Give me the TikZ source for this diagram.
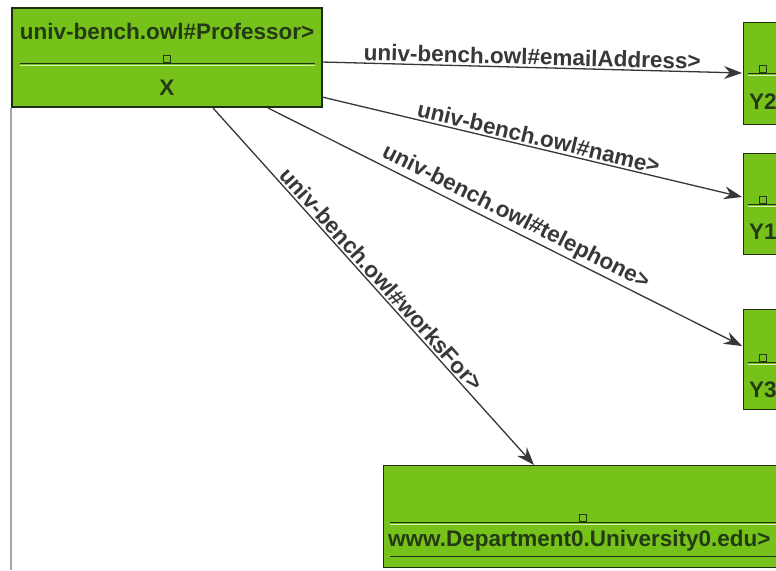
\documentclass[tikz,border=0pt]{standalone}
\usepackage{fontspec}
\setmainfont{Liberation Sans}
\usetikzlibrary{arrows.meta}
\definecolor{boxgreen}{RGB}{118,194,26}
\definecolor{boxborder}{RGB}{30,45,15}
\definecolor{txtgreen}{RGB}{36,58,20}
\definecolor{edgegray}{RGB}{55,55,55}
\tikzset{
  cls/.style={draw=boxborder, line width=1.2pt, fill=boxgreen, rectangle, inner sep=0pt},
  lbl/.style={font=\fontsize{22.5}{26}\selectfont\bfseries, text=txtgreen, inner sep=0pt},
  elbl/.style={font=\fontsize{22.5}{26}\selectfont\bfseries, text=black!78, sloped, above, inner sep=2pt},
  sep/.style={draw=txtgreen!90!black, line width=1pt},
  sepl/.style={draw=white!70!boxgreen, line width=0.8pt},
  sq/.style={draw=txtgreen, line width=0.8pt, fill=boxgreen, minimum size=7pt, inner sep=0pt, rectangle},
  rel/.style={draw=edgegray, line width=1.3pt, -{Stealth[length=18pt, width=13pt, inset=6pt]}}
}
\begin{document}
\begin{tikzpicture}[x=1pt, y=-1pt]
\useasboundingbox[fill=white] (0,0) rectangle (776,570);
\draw[gray!70, line width=1.2pt] (11,108) -- (11,570);
% Professor box
\node[cls, minimum width=310pt, minimum height=99pt] (prof) at (167,57.5) {};
\node[lbl] (proft) at (167,31) {univ-bench.owl\#Professor>};
\draw[sep] (20,63) -- (315,63);
\draw[sepl] (20,65) -- (315,65);
\node[sq] (profsq) at (167,58.5) {};
\node[lbl] (profx) at (167,88) {X};
% Y2 box
\node[cls, minimum width=60pt, minimum height=102pt, anchor=north west] (y2) at (743,22) {};
\draw[sep] (748,73) -- (790,73);
\draw[sepl] (748,75) -- (790,75);
\node[sq] (y2sq) at (763,68.5) {};
\node[lbl, anchor=west] (y2t) at (749,102) {Y2};
% Y1 box
\node[cls, minimum width=60pt, minimum height=101pt, anchor=north west] (y1) at (743,153) {};
\draw[sep] (748,204) -- (790,204);
\draw[sepl] (748,206) -- (790,206);
\node[sq] (y1sq) at (763,199.5) {};
\node[lbl, anchor=west] (y1t) at (749,232) {Y1};
% Y3 box
\node[cls, minimum width=60pt, minimum height=100pt, anchor=north west] (y3) at (743,309) {};
\draw[sep] (748,362) -- (790,362);
\draw[sepl] (748,364) -- (790,364);
\node[sq] (y3sq) at (763,357.5) {};
\node[lbl, anchor=west] (y3t) at (749,390) {Y3};
% Department box
\node[cls, minimum width=420pt, minimum height=102pt, anchor=north west] (dept) at (383,465) {};
\draw[sep] (390,522) -- (790,522);
\draw[sepl] (390,524) -- (790,524);
\node[sq] (deptsq) at (583,517.5) {};
\node[lbl, anchor=west] (deptt) at (388,541) {www.Department0.University0.edu>};
\draw[sep] (390,556) -- (790,556);
% connectors
\coordinate (s1) at (322,62);
\coordinate (s2) at (322,97);
\coordinate (s3) at (268,108);
\coordinate (s4) at (213,108);
\coordinate (e1) at (742,73);
\coordinate (e2) at (742,197);
\coordinate (e3) at (742,346);
\coordinate (e4) at (534,465);
\draw[rel] (s1) -- node[elbl, pos=0.5] (l1) {univ-bench.owl\#emailAddress>} (e1);
\draw[rel] (s2) -- node[elbl, pos=0.51] (l2) {univ-bench.owl\#name>} (e2);
\draw[rel] (s3) -- node[elbl, pos=0.51] (l3) {univ-bench.owl\#telephone>} (e3);
\draw[rel] (s4) -- node[elbl, pos=0.5] (l4) {univ-bench.owl\#worksFor>} (e4);
\end{tikzpicture}
\end{document}
